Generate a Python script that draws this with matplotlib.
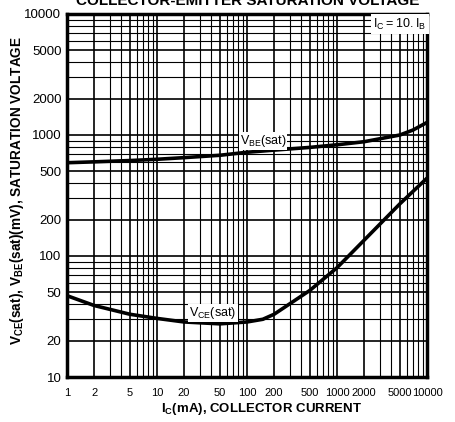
import matplotlib
matplotlib.use("Agg")
import matplotlib.pyplot as plt
from matplotlib.ticker import FixedLocator, LogLocator, NullFormatter

plt.rcParams['font.family'] = ['Liberation Sans', 'DejaVu Sans']
plt.rcParams['mathtext.default'] = 'regular'

# collector current (mA)
ic_vbe = [1, 2, 5, 10, 20, 50, 100, 200, 500, 1000, 2000, 5000, 7000, 10000]
vbe_sat = [590, 600, 615, 630, 650, 680, 720, 750, 790, 830, 880, 1000, 1100, 1270]

ic_vce = [1, 2, 5, 10, 20, 50, 100, 150, 200, 500, 1000, 2000, 5000, 10000]
vce_sat = [47, 39, 33, 30.5, 28.5, 27.5, 28.5, 30, 33, 52, 80, 135, 270, 440]

x_ticks = [1, 2, 5, 10, 20, 50, 100, 200, 500, 1000, 2000, 5000, 10000]
y_ticks = [10, 20, 50, 100, 200, 500, 1000, 2000, 5000, 10000]

fig = plt.figure(figsize=(4.56, 4.22), dpi=100)
ax = fig.add_axes([67 / 456, 1 - 377 / 422, 360 / 456, 363 / 422])

ax.plot(ic_vbe, vbe_sat, color='black', lw=2.6, solid_capstyle='butt', zorder=3)
ax.plot(ic_vce, vce_sat, color='black', lw=2.6, solid_capstyle='butt', zorder=3)

ax.set_xscale('log')
ax.set_yscale('log')
ax.set_xlim(1, 10000)
ax.set_ylim(10, 10000)

ax.xaxis.set_major_locator(FixedLocator(x_ticks))
ax.set_xticklabels([str(v) for v in x_ticks])
ax.yaxis.set_major_locator(FixedLocator(y_ticks))
ax.set_yticklabels([str(v) for v in y_ticks])
ax.xaxis.set_minor_locator(LogLocator(base=10, subs=range(2, 10), numticks=20))
ax.yaxis.set_minor_locator(LogLocator(base=10, subs=range(2, 10), numticks=20))
ax.xaxis.set_minor_formatter(NullFormatter())
ax.yaxis.set_minor_formatter(NullFormatter())

ax.grid(which='major', color='black', lw=1.2)
ax.grid(which='minor', color='black', lw=0.8)
ax.set_axisbelow(True)
ax.tick_params(which='both', length=0)
ax.tick_params(axis='x', pad=8, labelsize=8)
ax.tick_params(axis='y', pad=4, labelsize=9.5)
for s in ax.spines.values():
    s.set_linewidth(2.5)

fig.text(248 / 456, 1 - 5 / 422, 'COLLECTOR-EMITTER SATURATION VOLTAGE',
         ha='center', va='baseline', fontsize=11, fontweight='bold')
fig.text(262 / 456, 1 - 409 / 422, r'$I_C$(mA), COLLECTOR CURRENT',
         ha='center', va='center', fontsize=9.5, fontweight='bold')
fig.text(17 / 456, 1 - 190 / 422,
         r'$V_{CE}$(sat), $V_{BE}$(sat)(mV), SATURATION VOLTAGE',
         ha='center', va='center', rotation=90, fontsize=9.8, fontweight='bold')

ax.text(400 / 456, 1 - 24 / 422, r'$I_C = 10 . I_B$', transform=fig.transFigure,
        ha='center', va='center', fontsize=9, zorder=5,
        bbox=dict(facecolor='white', edgecolor='none', pad=2))
ax.text(263 / 456, 1 - 141 / 422, r'$V_{BE}$(sat)', transform=fig.transFigure,
        ha='center', va='center', fontsize=9, zorder=5,
        bbox=dict(facecolor='white', edgecolor='none', pad=0.5))
ax.text(213 / 456, 1 - 313 / 422, r'$V_{CE}$(sat)', transform=fig.transFigure,
        ha='center', va='center', fontsize=9, zorder=5,
        bbox=dict(facecolor='white', edgecolor='none', pad=1))

fig.savefig('out.png', dpi=100)
